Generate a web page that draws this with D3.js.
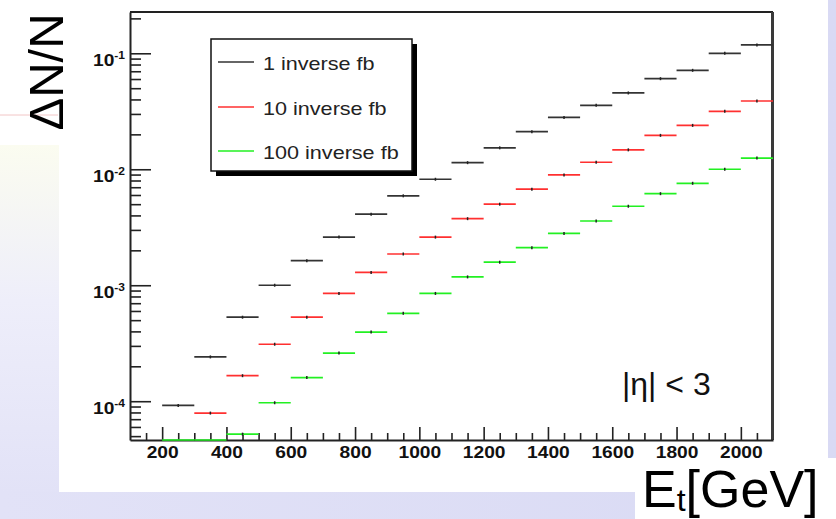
<!DOCTYPE html>
<html>
<head>
<meta charset="utf-8">
<script src="https://cdn.jsdelivr.net/npm/d3@7"></script>
<style>
body { margin: 0; background: #dcdcf5; }
svg { display: block; }
</style>
</head>
<body>
<svg id="chart"></svg>
<script>
// bin lower edges in GeV, every bin is 100 GeV wide
const binLow = [200, 300, 400, 500, 600, 700, 800, 900, 1000, 1100, 1200, 1300, 1400, 1500, 1600, 1700, 1800, 1900, 2000];
const binWidth = 100;

const seriesNames = ["1 inverse fb", "10 inverse fb", "100 inverse fb"];
const seriesColors = ["#333333", "#ff3030", "#22f022"];

// dN/N per bin
const fb1 = [9.2e-5, 2.41e-4, 5.3e-4, 1.0e-3, 1.63e-3, 2.6e-3, 4.1e-3, 5.9e-3, 8.2e-3, 1.14e-2, 1.53e-2, 2.11e-2, 2.8e-2, 3.56e-2, 4.55e-2, 6.04e-2, 7.13e-2, 0.1, 0.118];
const fb10 = [null, 7.9e-5, 1.66e-4, 3.1e-4, 5.3e-4, 8.5e-4, 1.29e-3, 1.86e-3, 2.6e-3, 3.75e-3, 5.0e-3, 6.73e-3, 8.93e-3, 1.15e-2, 1.47e-2, 1.96e-2, 2.39e-2, 3.16e-2, 3.88e-2];
const fb100 = [3.0e-5, 4.0e-5, 5.2e-5, 9.7e-5, 1.6e-4, 2.6e-4, 3.95e-4, 5.73e-4, 8.5e-4, 1.18e-3, 1.58e-3, 2.11e-3, 2.8e-3, 3.58e-3, 4.8e-3, 6.16e-3, 7.57e-3, 1.0e-2, 1.25e-2];

const xTicks = [200, 400, 600, 800, 1000, 1200, 1400, 1600, 1800, 2000];
const yDecades = [1e-1, 1e-2, 1e-3, 1e-4];
const yExponents = ["-1", "-2", "-3", "-4"];

const width = 836;
const height = 519;
const plotFont = "'Liberation Sans', Arial, sans-serif";

const svg = d3.select("#chart")
  .attr("width", width)
  .attr("height", height);

// slide background pieces
const defs = svg.append("defs");
const lg = defs.append("linearGradient")
  .attr("id", "leftfade")
  .attr("x1", 0).attr("y1", 0).attr("x2", 0).attr("y2", 1);
lg.append("stop").attr("offset", "0%").attr("stop-color", "#fbfcf0");
lg.append("stop").attr("offset", "45%").attr("stop-color", "#eeeefa");
lg.append("stop").attr("offset", "100%").attr("stop-color", "#e2e2f7");
const bg = defs.append("linearGradient")
  .attr("id", "bottomfade")
  .attr("x1", 0).attr("y1", 0).attr("x2", 1).attr("y2", 0);
bg.append("stop").attr("offset", "0%").attr("stop-color", "#e2e2f7");
bg.append("stop").attr("offset", "100%").attr("stop-color", "#d9daf4");

svg.append("rect").attr("width", width).attr("height", height).attr("fill", "url(#bottomfade)");
svg.append("rect").attr("x", 0).attr("y", 145).attr("width", 59).attr("height", 347).attr("fill", "url(#leftfade)");
svg.append("rect").attr("x", 0).attr("y", 0).attr("width", 80).attr("height", 145).attr("fill", "#fff");
svg.append("line").attr("x1", 0).attr("x2", 58).attr("y1", 115).attr("y2", 115)
  .attr("stroke", "#f2c6c6").attr("stroke-width", 1);
svg.append("rect").attr("x", 59).attr("y", 0).attr("width", 769).attr("height", 492).attr("fill", "#fff");
svg.append("rect").attr("x", 635).attr("y", 458).attr("width", 201).attr("height", 61).attr("fill", "#fff");

// scales
const x = d3.scaleLinear().domain([100, 2100]).range([130, 773]);
const y = d3.scaleLog().domain([4.63e-5, 0.227]).range([440, 12]).clamp(true);

const plot = svg.append("g");

// frame
plot.append("line").attr("x1", 130).attr("x2", 773).attr("y1", 12).attr("y2", 12)
  .attr("stroke", "#222").attr("stroke-width", 2);
plot.append("line").attr("x1", 772.5).attr("x2", 772.5).attr("y1", 12).attr("y2", 440)
  .attr("stroke", "#3a3a3a").attr("stroke-width", 3);

// y axis, ticks point into the frame
const yAxis = plot.append("g")
  .attr("transform", "translate(130,0)")
  .call(d3.axisLeft(y).tickValues(y.ticks()).tickSize(-11).tickSizeOuter(0).tickFormat(""));
yAxis.select(".domain").attr("stroke", "#222").attr("stroke-width", 2);
yAxis.selectAll(".tick line")
  .attr("stroke", "#222")
  .attr("stroke-width", 1.6)
  .attr("x2", (d) => yDecades.includes(d) ? 21 : 11);

const yLab = plot.append("g").selectAll("g")
  .data(yDecades)
  .enter()
  .append("g")
  .attr("transform", (d) => `translate(125,${y(d) + 13}) scale(1.2,1)`);
const yText = yLab.append("text")
  .attr("text-anchor", "end")
  .attr("font-family", plotFont)
  .attr("font-weight", "bold")
  .attr("font-size", 16)
  .attr("fill", "#111");
yText.append("tspan").text("10");
yText.append("tspan")
  .attr("font-size", 10)
  .attr("dy", -7)
  .text((d, i) => yExponents[i]);

// x axis with minor ticks every 50
const xMinor = d3.range(150, 2100, 50).filter((v) => !xTicks.includes(v));
const xMin = plot.append("g")
  .attr("transform", "translate(0,440)")
  .call(d3.axisBottom(x).tickValues(xMinor).tickSize(-7).tickSizeOuter(0).tickFormat(""));
xMin.select(".domain").remove();
xMin.selectAll(".tick line").attr("stroke", "#222").attr("stroke-width", 1.6);

const xAxis = plot.append("g")
  .attr("transform", "translate(0,440)")
  .call(d3.axisBottom(x).tickValues(xTicks).tickSize(-13).tickSizeOuter(0).tickFormat(d3.format("d")));
xAxis.select(".domain").attr("stroke", "#222").attr("stroke-width", 2);
xAxis.selectAll(".tick line").attr("stroke", "#222").attr("stroke-width", 1.6);
xAxis.selectAll(".tick text")
  .attr("y", 18)
  .attr("dy", 0)
  .attr("transform", "scale(1.2,1)")
  .attr("font-family", plotFont)
  .attr("font-weight", "bold")
  .attr("font-size", 16)
  .attr("fill", "#111");

// histogram bins
const allSeries = [fb1, fb10, fb100];
allSeries.forEach((vals, s) => {
  const bins = binLow.map((lo, i) => ({ lo: lo, v: vals[i] })).filter((d) => d.v !== null);
  const g = plot.append("g");
  g.selectAll("line.bin")
    .data(bins)
    .enter()
    .append("line")
    .attr("class", "bin")
    .attr("x1", (d) => x(d.lo))
    .attr("x2", (d) => x(d.lo + binWidth))
    .attr("y1", (d) => y(d.v))
    .attr("y2", (d) => y(d.v))
    .attr("stroke", seriesColors[s])
    .attr("stroke-width", 1.7);
  // little error mark in the bin centre
  g.selectAll("line.err")
    .data(bins.filter((d) => y(d.v) < 438))
    .enter()
    .append("line")
    .attr("class", "err")
    .attr("x1", (d) => x(d.lo + binWidth / 2))
    .attr("x2", (d) => x(d.lo + binWidth / 2))
    .attr("y1", (d) => y(d.v) - 1.5)
    .attr("y2", (d) => y(d.v) + 1.5)
    .attr("stroke", "#222")
    .attr("stroke-width", 1.5);
});

// legend with ROOT-style shadow
const leg = plot.append("g");
leg.append("rect").attr("x", 216).attr("y", 44).attr("width", 201).attr("height", 132).attr("fill", "#000");
leg.append("rect").attr("x", 211).attr("y", 39).attr("width", 201).attr("height", 132)
  .attr("fill", "#fff").attr("stroke", "#111").attr("stroke-width", 1.5);
const legRowY = [62, 107, 151];
const legItem = leg.selectAll("g.item")
  .data(seriesNames)
  .enter()
  .append("g")
  .attr("class", "item");
legItem.append("line")
  .attr("x1", 218).attr("x2", 254)
  .attr("y1", (d, i) => legRowY[i]).attr("y2", (d, i) => legRowY[i])
  .attr("stroke", (d, i) => seriesColors[i])
  .attr("stroke-width", 1.3);
legItem.append("text")
  .attr("transform", (d, i) => `translate(263,${legRowY[i] + 7.5}) scale(1.2,1)`)
  .attr("font-family", plotFont)
  .attr("font-size", 18)
  .attr("fill", "#222")
  .text((d) => d);

// annotations and axis titles
svg.append("text")
  .attr("x", 622).attr("y", 395)
  .attr("font-family", plotFont)
  .attr("font-size", 32)
  .attr("fill", "#111")
  .text("|\u03b7| < 3");

svg.append("text")
  .attr("transform", "translate(63,72) rotate(-90)")
  .attr("text-anchor", "middle")
  .attr("font-family", plotFont)
  .attr("font-size", 49)
  .attr("fill", "#000")
  .text("\u0394N/N");

const xt = svg.append("text")
  .attr("x", 642).attr("y", 507)
  .attr("font-family", plotFont)
  .attr("font-size", 52)
  .attr("fill", "#000");
xt.append("tspan").text("E");
xt.append("tspan").attr("font-size", 32).attr("dy", 4).text("t");
xt.append("tspan").attr("dy", -4).text("[GeV]");
</script>
</body>
</html>
